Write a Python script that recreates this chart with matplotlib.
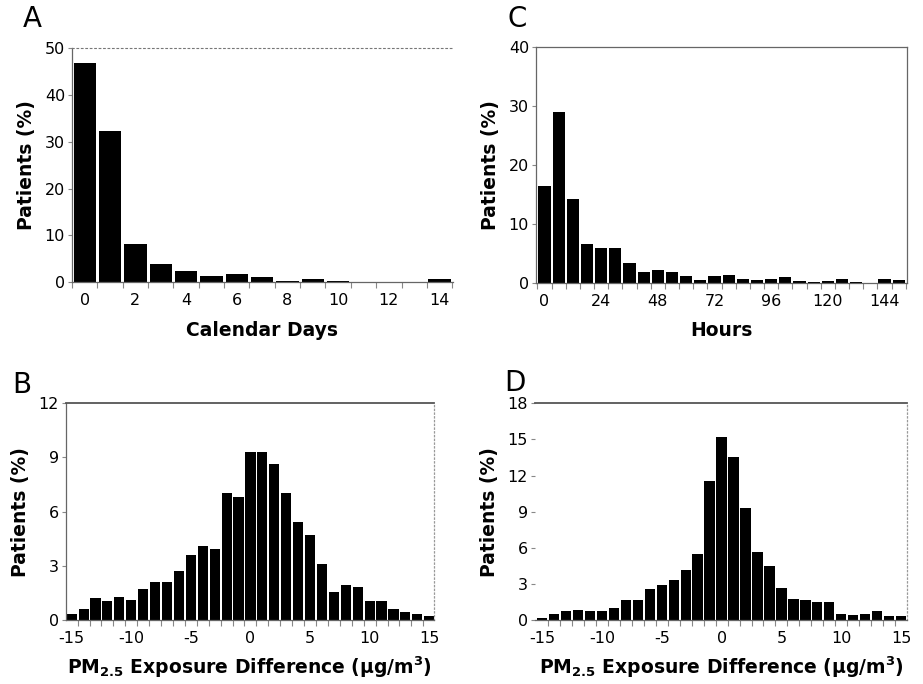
import matplotlib
matplotlib.use("Agg")
import matplotlib.pyplot as plt
import numpy as np

# ---------------- data ----------------
days = list(range(0, 15))
days_pct = [46.9, 32.3, 8.2, 3.9, 2.5, 1.35, 1.8, 1.2, 0.3, 0.6, 0.35, 0.0, 0.0, 0.15, 0.6]
day_ticks = [0, 2, 4, 6, 8, 10, 12, 14]

hours = list(range(0, 156, 6))
hours_pct = [16.4, 28.95, 14.3, 6.6, 5.9, 5.9, 3.4, 1.9, 2.1, 1.75, 1.1, 0.45, 1.1,
             1.3, 0.57, 0.4, 0.68, 0.96, 0.28, 0.1, 0.28, 0.68, 0.1, 0.0, 0.68, 0.4]
hour_ticks = [0, 24, 48, 72, 96, 120, 144]

pm_diff = list(range(-15, 16))
pm_pct_B = [0.31, 0.63, 1.2, 1.03, 1.27, 1.13, 1.72, 2.12, 2.12, 2.73, 3.62, 4.12, 3.93,
            7.01, 6.79, 9.32, 9.32, 8.62, 7.01, 5.41, 4.71, 3.12, 1.53, 1.92, 1.81,
            1.03, 1.03, 0.63, 0.42, 0.33, 0.22]
pm_pct_D = [0.17, 0.5, 0.72, 0.83, 0.72, 0.72, 1.0, 1.63, 1.63, 2.55, 2.91, 3.32, 4.13,
            5.51, 11.55, 15.2, 13.51, 9.3, 5.62, 4.49, 2.63, 1.77, 1.63, 1.52, 1.52,
            0.5, 0.39, 0.5, 0.72, 0.3, 0.3]
pm_ticks = [-15, -10, -5, 0, 5, 10, 15]

yticks_A = [0, 10, 20, 30, 40, 50]
yticks_C = [0, 10, 20, 30, 40]
yticks_B = [0, 3, 6, 9, 12]
yticks_D = [0, 3, 6, 9, 12, 15, 18]

ylabel = "Patients (%)"
pm_label = r"PM$_{\mathbf{2.5}}$ Exposure Difference (µg/m$^{\mathbf{3}}$)"

# ---------------- figure ----------------
plt.rcParams['font.family'] = ['DejaVu Sans']
plt.rcParams['axes.unicode_minus'] = False

W, H = 923, 684
fig = plt.figure(figsize=(W / 100, H / 100), dpi=100)

def px_axes(l, r, t, b):
    return fig.add_axes([l / W, 1 - b / H, (r - l) / W, (b - t) / H])

GRAY = "#666666"
TICK_FS = 11.5
LAB_FS = 13.5

def style(ax, yt, xt, xlim, ylim, minor, left=True, top='solid', right=None):
    ax.set_xlim(*xlim)
    ax.set_ylim(*ylim)
    ax.set_yticks(yt)
    ax.set_xticks(xt)
    ax.set_xticks(minor, minor=True)
    ax.tick_params(axis='x', which='major', length=0, labelsize=TICK_FS, pad=8)
    ax.tick_params(axis='x', which='minor', length=4, width=0.8, color="#888888", direction='out')
    ax.tick_params(axis='y', which='major', length=3, width=0.8, color="#888888",
                   labelsize=TICK_FS, pad=2)
    for s in ax.spines.values():
        s.set_color(GRAY)
        s.set_linewidth(0.9)
    ax.spines['left'].set_visible(left)
    if top == 'dotted':
        ax.spines['top'].set_linestyle((0, (1.5, 2.5)))
        ax.spines['top'].set_color("#777777")
        ax.spines['top'].set_linewidth(0.8)
    elif top == 'solid':
        ax.spines['top'].set_linewidth(1.3)
        ax.spines['top'].set_color("#555555")
    if right is None:
        ax.spines['right'].set_visible(False)
    elif right == 'dotted':
        ax.spines['right'].set_linestyle((0, (1, 2)))
        ax.spines['right'].set_color("#999999")
    ax.set_ylabel(ylabel, fontsize=LAB_FS, fontweight='bold', labelpad=6)

# Panel A
axA = px_axes(72, 453, 48, 282.3)
axA.bar(days, days_pct, width=0.88, color='black')
style(axA, yticks_A, day_ticks, (-0.48, 14.53), (0, 50),
      np.arange(-0.5, 15, 1.0), top='dotted', right=None)
axA.set_xlabel("Calendar Days", fontsize=LAB_FS, fontweight='bold', labelpad=9)

# Panel C
axC = px_axes(536, 906.7, 47.3, 282.7)
axC.bar(hours, hours_pct, width=5.2, color='black')
style(axC, yticks_C, hour_ticks, (-3.6, 153.4), (0, 40),
      np.arange(-3, 156, 6), top='solid', right='solid')
axC.spines['top'].set_linewidth(0.9)
axC.spines['top'].set_color(GRAY)
axC.set_xlabel("Hours", fontsize=LAB_FS, fontweight='bold', labelpad=9)

# Panel B
axB = px_axes(65.7, 434, 403.3, 620)
axB.bar(pm_diff, pm_pct_B, width=0.85, color='black')
style(axB, yticks_B, pm_ticks, (-15.5, 15.4), (0, 12),
      np.arange(-14.5, 15.5, 1.0), top='solid', right='dotted')
axB.set_xlabel(pm_label, fontsize=LAB_FS, fontweight='bold', labelpad=6)

# Panel D
axD = px_axes(535, 907, 403.3, 620)
axD.bar(pm_diff, pm_pct_D, width=0.87, color='black')
style(axD, yticks_D, pm_ticks, (-15.6, 15.5), (0, 18),
      np.arange(-14.5, 15.5, 1.0), left=False, top='solid', right='dotted')
axD.set_xlabel(pm_label, fontsize=LAB_FS, fontweight='bold', labelpad=6)

# Panel letters
for letter, x, y in [("A", 32, 19), ("C", 517, 19), ("B", 22, 385), ("D", 515, 383)]:
    fig.text(x / W, 1 - y / H, letter, fontsize=20, ha='center', va='center')

fig.savefig("out.png", dpi=100)
